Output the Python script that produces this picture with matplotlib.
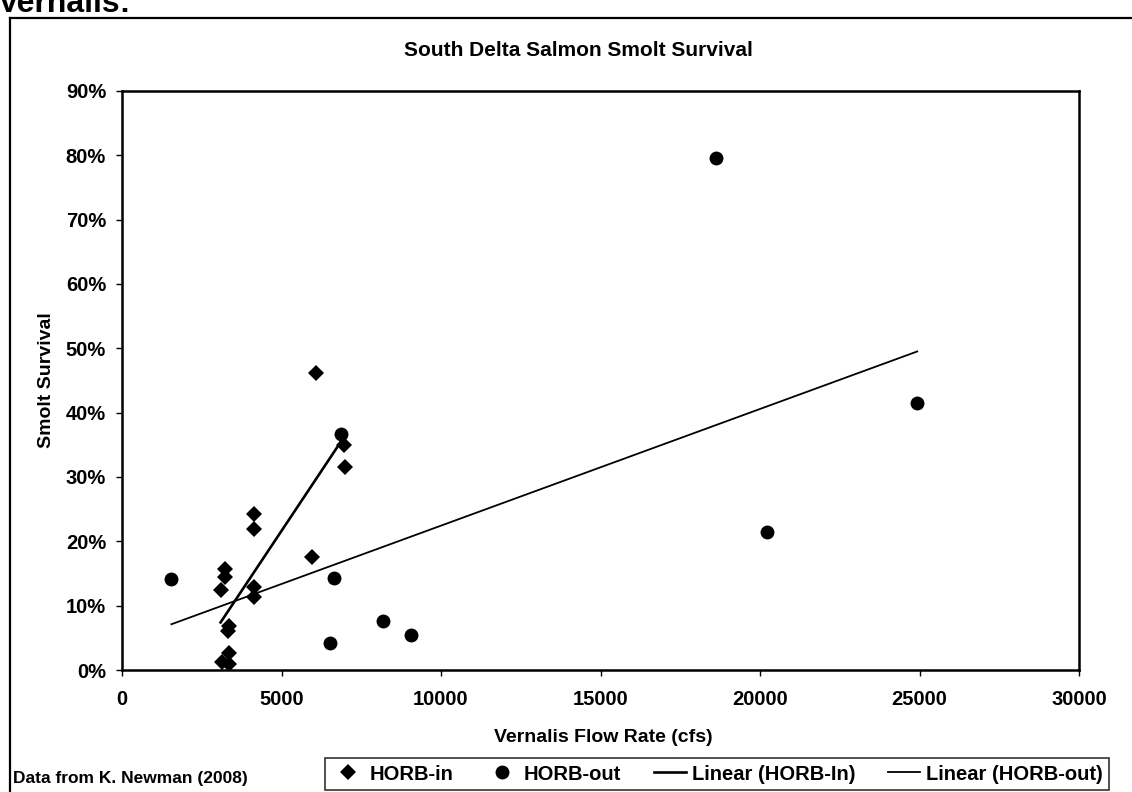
"""
South Delta salmon smolt survival vs. Vernalis flow (scatter + linear trends).
Output: out.png (1132 x 792)
"""

import numpy as np
import matplotlib
matplotlib.use("Agg")
import matplotlib.pyplot as plt
from matplotlib.lines import Line2D
from matplotlib.ticker import PercentFormatter


# HORB-in releases (flow in cfs, survival as fraction)
flow_in = [6070, 6970, 6980, 4140, 4140, 5950, 3230, 3230, 3090, 4140, 4140,
           3350, 3330, 3350, 3150, 3350]
surv_in = [0.462, 0.350, 0.315, 0.243, 0.219, 0.176, 0.157, 0.144, 0.125, 0.129,
           0.114, 0.069, 0.060, 0.026, 0.013, 0.009]

# HORB-out releases
flow_out = [1550, 6860, 6650, 6520, 8180, 9060, 18620, 20230, 24930]
surv_out = [0.141, 0.367, 0.143, 0.042, 0.076, 0.054, 0.796, 0.214, 0.415]

x_ticks = [0, 5000, 10000, 15000, 20000, 25000, 30000]
y_ticks = [0.0, 0.1, 0.2, 0.3, 0.4, 0.5, 0.6, 0.7, 0.8, 0.9]

TITLE   = "South Delta Salmon Smolt Survival"
XLABEL  = "Vernalis Flow Rate (cfs)"
YLABEL  = "Smolt Survival"
SOURCE  = "Data from K. Newman (2008)"

plt.rcParams['font.family'] = ['Liberation Sans', 'DejaVu Sans']
plt.rcParams['font.weight'] = 'bold'

W, H = 1132, 792


def linear_trend(x, y):
    """Least-squares line over the data's x range (like an Excel trendline)."""
    x = np.asarray(x, float)
    y = np.asarray(y, float)
    slope, icpt = np.polyfit(x, y, 1)
    xs = np.array([x.min(), x.max()])
    return xs, slope * xs + icpt


fig = plt.figure(figsize=(W / 100, H / 100), dpi=100)
ax = fig.add_axes([122 / W, 1 - 670 / H, (1079 - 122) / W, (670 - 91) / H])

ax.plot(flow_in, surv_in, linestyle='none', marker='D', ms=8.5,
        color='black', mew=0, label='HORB-in', zorder=3)
ax.plot(flow_out, surv_out, linestyle='none', marker='o', ms=10,
        color='black', mew=0, label='HORB-out', zorder=3)

tx, ty = linear_trend(flow_in, surv_in)
ax.plot(tx, ty, color='black', lw=1.9, label='Linear (HORB-In)', zorder=2)
tx, ty = linear_trend(flow_out, surv_out)
ax.plot(tx, ty, color='black', lw=1.3, label='Linear (HORB-out)', zorder=2)

ax.set_xlim(0, 30000)
ax.set_ylim(0, 0.9)
ax.set_xticks(x_ticks)
ax.set_yticks(y_ticks)
ax.yaxis.set_major_formatter(PercentFormatter(1.0, decimals=0))
ax.tick_params(axis='both', direction='out', length=4.5, width=1.0,
               labelsize=14.5, color='black')
ax.tick_params(axis='y', pad=7)
ax.tick_params(axis='x', pad=10)
for lbl in ax.get_xticklabels() + ax.get_yticklabels():
    lbl.set_fontweight('bold')
for side in ['left', 'bottom', 'top', 'right']:
    ax.spines[side].set_linewidth(1.8)
    ax.spines[side].set_color('black')

# titles / labels placed in figure pixels
fig.text(578 / W, 1 - 50 / H, TITLE, ha='center', va='center',
         fontsize=15, fontweight='bold')
fig.text(603 / W, 1 - 738 / H, XLABEL, ha='center', va='center',
         fontsize=14, fontweight='bold')
fig.text(47 / W, 1 - 380 / H, YLABEL, ha='center', va='center',
         rotation=90, fontsize=14, fontweight='bold')
fig.text(13 / W, 1 - 778 / H, SOURCE, ha='left', va='center',
         fontsize=12.5, fontweight='bold')

# page heading, cut off at the top of the scan as in the source
fig.text(-0.002, 1 - 12 / H, "Vernalis:", ha='left', va='baseline',
         fontsize=23, fontweight='bold')

# outer chart frame (left and top edges visible)
fig.add_artist(Line2D([10 / W, 10 / W], [0, 1 - 18 / H], color='black', lw=1.6))
fig.add_artist(Line2D([10 / W, 1.0], [1 - 18 / H, 1 - 18 / H], color='black', lw=1.6))

leg = fig.legend(loc='center', bbox_to_anchor=(717 / W, 1 - 774 / H),
                 ncol=4, frameon=True, fancybox=False, fontsize=14.5,
                 handlelength=1.6, handletextpad=0.3, columnspacing=1.6,
                 borderpad=0.3, edgecolor='black')
leg.get_frame().set_linewidth(1.2)
for t in leg.get_texts():
    t.set_fontweight('bold')

fig.savefig("out.png", dpi=100)
